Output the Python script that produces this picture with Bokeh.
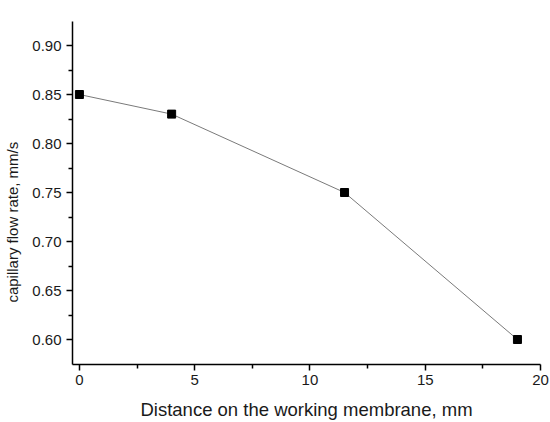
from bokeh.plotting import figure
from bokeh.models import Range1d, FixedTicker, CustomJSTickFormatter
from bokeh.embed import file_html
from bokeh.resources import INLINE

distance = [0, 4, 11.5, 19]
flow_rate = [0.85, 0.83, 0.75, 0.60]
x_ticks = [0, 5, 10, 15, 20]
y_ticks = [0.60, 0.65, 0.70, 0.75, 0.80, 0.85, 0.90]
x_minor = [2.5, 7.5, 12.5, 17.5]
y_minor = [0.625, 0.675, 0.725, 0.775, 0.825, 0.875, 0.925]

p = figure(width=550, height=422, output_backend="svg", toolbar_location=None,
           x_range=Range1d(-0.3, 20.0), y_range=Range1d(0.5745, 0.9245),
           min_border_left=72, min_border_right=10, min_border_top=21, min_border_bottom=58)
p.outline_line_color = None
p.xgrid.visible = False
p.ygrid.visible = False

p.line(distance, flow_rate, line_color="#7a7a7a", line_width=1)
p.scatter(distance, flow_rate, marker="square", size=8, fill_color="black", line_color="black")

font = "Liberation Sans"
for ax in (p.xaxis[0], p.yaxis[0]):
    ax.axis_line_color = "black"
    ax.axis_line_width = 1.5
    ax.major_tick_line_color = "black"
    ax.major_tick_line_width = 1.5
    ax.minor_tick_line_color = "black"
    ax.minor_tick_line_width = 1.5
    ax.major_tick_out = 6
    ax.major_tick_in = 0
    ax.minor_tick_out = 4
    ax.minor_tick_in = 0
    ax.major_label_text_font = font
    ax.major_label_text_font_size = "15px"
    ax.major_label_text_color = "#1a1a1a"
    ax.axis_label_text_font = font
    ax.axis_label_text_font_style = "normal"
    ax.axis_label_text_color = "#1a1a1a"

p.xaxis.axis_label_text_font_size = "18.5px"
p.yaxis.axis_label_text_font_size = "15px"
p.xaxis.ticker = FixedTicker(ticks=x_ticks, minor_ticks=x_minor)
p.yaxis.ticker = FixedTicker(ticks=y_ticks, minor_ticks=y_minor)
p.yaxis.formatter = CustomJSTickFormatter(code="return tick.toFixed(2);")
p.xaxis.axis_label = "Distance on the working membrane, mm"
p.yaxis.axis_label = "capillary flow rate, mm/s" + "\u00a0" * 14
p.xaxis.major_label_standoff = 4
p.yaxis.major_label_standoff = 5
p.xaxis.axis_label_standoff = 11
p.yaxis.axis_label_standoff = 8

open("out.html", "w").write(file_html(p, INLINE))
